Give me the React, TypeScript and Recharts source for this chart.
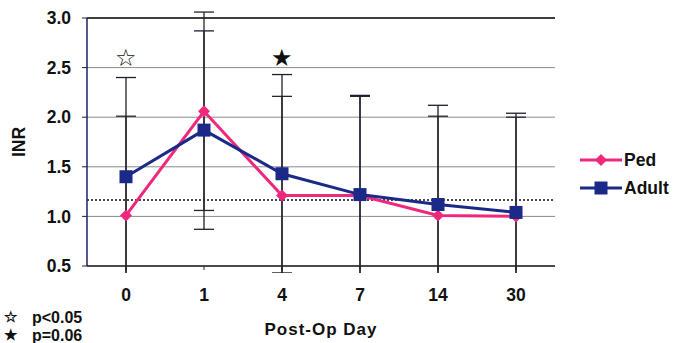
import React from 'react';
import {
  ComposedChart,
  Line,
  XAxis,
  YAxis,
  CartesianGrid,
  ErrorBar,
  ReferenceLine,
  ReferenceDot,
  Legend,
  Customized,
} from 'recharts';

const days = ['0', '1', '4', '7', '14', '30'];
const ped = [1.01, 2.06, 1.21, 1.21, 1.01, 1.0];
const adult = [1.4, 1.87, 1.43, 1.22, 1.12, 1.04];
const pedSd = [1.0, 1.0, 1.0, 1.0, 1.0, 1.0];
const adultSd = [1.0, 1.0, 1.0, 1.0, 1.0, 1.0];
const yTicks = [0.5, 1.0, 1.5, 2.0, 2.5, 3.0];
const normalInr = 1.165;

const PINK = '#f0287c';
const NAVY = '#1b2a88';
const FONT = '"Liberation Sans", Arial, sans-serif';

const W = 685;
const H = 343;
const MARGIN = { top: 18, right: 130, bottom: 0, left: 0 };
const X_AXIS_H = 77;
// error bars in the original are cut a few px below the x axis
const CLIP_BOTTOM = H - X_AXIS_H + 7;

const data = days.map((d, i) => ({
  day: d,
  ped: ped[i],
  adult: adult[i],
  pedSd: pedSd[i],
  adultSd: adultSd[i],
}));

const Diamond = ({ cx, cy }: any) => {
  if (cx == null || cy == null) return null;
  const r = 6;
  return <path d={`M${cx},${cy - r}L${cx + r},${cy}L${cx},${cy + r}L${cx - r},${cy}Z`} fill={PINK} />;
};

const Square = ({ cx, cy }: any) => {
  if (cx == null || cy == null) return null;
  const s = 6.5;
  return <rect x={cx - s} y={cy - s} width={s * 2} height={s * 2} fill={NAVY} />;
};

const starShape = (glyph: string) => (p: any) => (
  <text x={p.cx} y={p.cy} textAnchor="middle" dominantBaseline="central" fontSize={24} fill="#111">
    {glyph}
  </text>
);

const LegendBox = () => (
  <svg width={105} height={50}>
    <line x1={2} y1={12} x2={44} y2={12} stroke={PINK} strokeWidth={3} />
    <Diamond cx={23} cy={12} />
    <text x={46} y={12} dy="0.35em" fontFamily={FONT} fontWeight="bold" fontSize={17.5} fill="#111">Ped</text>
    <line x1={2} y1={40} x2={44} y2={40} stroke={NAVY} strokeWidth={3} />
    <Square cx={23} cy={40} />
    <text x={46} y={40} dy="0.35em" fontFamily={FONT} fontWeight="bold" fontSize={17.5} fill="#111">Adult</text>
  </svg>
);

const Extras = () => (
  <g>
    <defs>
      <clipPath id="errbar-clip">
        <rect x={0} y={0} width={W} height={CLIP_BOTTOM} />
      </clipPath>
    </defs>
    <style>{'.recharts-errorBars, .recharts-errorBar { clip-path: url(#errbar-clip); }'}</style>
    <g fontFamily={FONT} fontWeight="bold" fontSize={16} fill="#111">
      <text x={4} y={317} dy="0.35em" fontSize={15}>☆</text>
      <text x={32} y={317} dy="0.35em">p&lt;0.05</text>
      <text x={4} y={335} dy="0.35em" fontSize={15}>★</text>
      <text x={32} y={335} dy="0.35em">p=0.06</text>
    </g>
  </g>
);

export default function App() {
  return (
    <div style={{ position: 'absolute', left: 0, top: 0, background: '#fff' }}>
      <ComposedChart width={W} height={H} data={data} margin={MARGIN}>
        <CartesianGrid vertical={false} stroke="#8a8a8a" />
        <XAxis
          dataKey="day"
          scale="band"
          height={X_AXIS_H}
          axisLine={{ stroke: '#222', strokeWidth: 1.5 }}
          tickLine={{ stroke: '#222' }}
          tickSize={4}
          tickMargin={19}
          tick={{ fontFamily: FONT, fontWeight: 'bold', fontSize: 17.5, fill: '#111' }}
          label={{
            value: 'Post-Op Day',
            position: 'insideBottom',
            offset: 8,
            style: { fontFamily: FONT, fontWeight: 'bold', fontSize: 17, letterSpacing: 1, fill: '#111' },
          }}
        />
        <YAxis
          type="number"
          domain={[0.5, 3.0]}
          allowDataOverflow
          ticks={yTicks}
          tickFormatter={(v: number) => v.toFixed(1)}
          width={87}
          axisLine={{ stroke: '#1c2266', strokeWidth: 1.5 }}
          tickSize={5}
          tickMargin={11}
          tickLine={{ stroke: '#222' }}
          tick={{ fontFamily: FONT, fontWeight: 'bold', fontSize: 17.5, fill: '#111' }}
          label={{
            value: 'INR',
            angle: -90,
            position: 'insideLeft',
            offset: 19,
            style: { fontFamily: FONT, fontWeight: 'bold', fontSize: 17.5, fill: '#111', textAnchor: 'middle' },
          }}
        />
        <YAxis
          yAxisId="frame"
          orientation="right"
          width={0}
          domain={[0.5, 3.0]}
          allowDataOverflow
          tick={false}
          tickLine={false}
          axisLine={{ stroke: '#555', strokeWidth: 1.2 }}
        />
        <ReferenceLine y={3.0} stroke="#111" strokeWidth={1.5} />
        <ReferenceLine y={normalInr} stroke="#111" strokeWidth={1.5} strokeDasharray="2 2" />
        <Line
          dataKey="ped"
          stroke={PINK}
          strokeWidth={3}
          dot={<Diamond />}
          activeDot={false}
          isAnimationActive={false}
        >
          <ErrorBar dataKey="pedSd" width={10} stroke="#2a2522" strokeWidth={1.3} direction="y" />
        </Line>
        <Line
          dataKey="adult"
          stroke={NAVY}
          strokeWidth={3}
          dot={<Square />}
          activeDot={false}
          isAnimationActive={false}
        >
          <ErrorBar dataKey="adultSd" width={10} stroke="#1e1e2e" strokeWidth={1.3} direction="y" />
        </Line>
        <ReferenceDot x="0" y={2.6} r={0} shape={starShape('☆')} />
        <ReferenceDot x="4" y={2.6} r={0} shape={starShape('★')} />
        <Legend
          layout="vertical"
          align="center"
          verticalAlign="middle"
          content={<LegendBox />}
          wrapperStyle={{ left: 578, top: 148, width: 105, height: 50 }}
        />
        <Customized component={<Extras />} />
      </ComposedChart>
    </div>
  );
}
